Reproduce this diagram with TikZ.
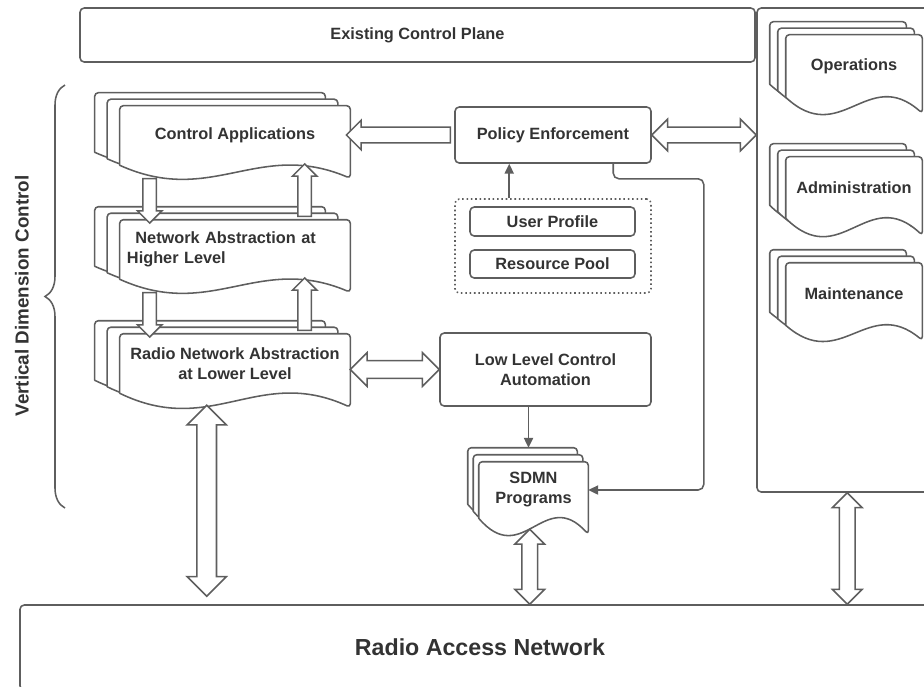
\documentclass[tikz,border=0pt]{standalone}
\usepackage{fontspec}
\setmainfont{Liberation Sans}
\usetikzlibrary{arrows.meta,backgrounds,calc,shapes.arrows,decorations.pathreplacing}
\definecolor{dgInk}{HTML}{333333}
\definecolor{dgEdge}{HTML}{5E5E5E}
\def\pxu{0.025cm}
% three stacked wavy documents behind a node
\newcommand{\docstack}[4]{%
  \begin{scope}[on background layer]
    \foreach \k in {2,1,0}{
      \coordinate (sw) at ($(#1.south west)+(-\k*#2,-\k*#3)$);
      \coordinate (nw) at ($(#1.north west)+(-\k*#2,-\k*#3)$);
      \coordinate (ne) at ($(#1.north east)+(-\k*#2,-\k*#3)$);
      \coordinate (se) at ($(#1.south east)+(-\k*#2,-\k*#3)$);
      \draw[doc] (sw) [rounded corners=2.5pt] -- (nw) -- (ne) -- ($(se)+(0,#4)$) [sharp corners]
        .. controls ($(sw)!0.6!(se)+(0,-2*#4)$) and ($(sw)!0.4!(se)+(0,3.2*#4)$) .. (sw);
    }
  \end{scope}}
% hollow block arrow between two points
\newcommand{\blockarrow}[3][]{%
  \path let \p1=#2, \p2=#3, \n1={veclen(\x2-\x1,\y2-\y1)}, \n2={atan2(\y2-\y1,\x2-\x1)} in
    node[hollow, #1, minimum height=\n1, rotate=\n2] at ({(\x1+\x2)/2},{(\y1+\y2)/2}) {};}

\begin{document}
\begin{tikzpicture}[x=0.025cm, y=-0.025cm,
  lbl/.style={font=\fontsize{11.6}{14.2}\selectfont\bfseries, text=dgInk},
  sz/.style 2 args={minimum width=#1*\pxu, minimum height=#2*\pxu},
  box/.style={draw=dgEdge, line width=1.1pt, rounded corners=3pt, lbl, align=center, inner sep=1pt},
  docnode/.style={lbl, align=center, inner sep=0pt},
  doc/.style={draw=dgEdge, line width=1.1pt, fill=white, line join=round, line cap=round},
  hollow/.style={draw=dgEdge, line width=1.1pt, fill=white, inner xsep=0pt, minimum width=0pt},
  hw/.style 2 args={inner ysep=#1, single arrow head extend=#2, double arrow head extend=#2},
  conn/.style={draw=dgEdge, line width=1.1pt, -{Triangle[length=7pt,width=6.5pt]}},
  brc/.style={draw=dgEdge, line width=1.1pt, decorate, decoration={brace, amplitude=0.5cm}},
]
\useasboundingbox (0,0) rectangle (924,686);
% ---- frames ----
\node[box, sz={675}{54}] (ecp) at (417.5,35) {Existing Control Plane};
\node[box, sz={178}{484}] (oam) at (846,250) {};
\node[box, sz={920}{85}, font=\fontsize{16.5}{20}\selectfont\bfseries] (ran) at (480,647.5) {Radio Access Network};
% ---- vertical control stacks ----
\node[docnode, sz={230}{59}] (ca) at (235,135.5) {Control Applications};
\node[docnode, sz={230}{59}, align=left, text width=5.4cm] (na) at (235,249.5) {\hspace*{6pt}Network Abstraction at\\Higher Level};
\node[docnode, sz={230}{59}] (rna) at (235,363.5) {Radio Network Abstraction\\at Lower Level};
\docstack{ca}{12.5}{6.5}{13}
\docstack{na}{12.5}{6.5}{13}
\docstack{rna}{12.5}{6.5}{14}
\draw[brc] (65,508) -- (65,85);
\node[lbl, font=\fontsize{13.4}{16}\selectfont\bfseries, rotate=90] (vdc) at (22,296) {Vertical Dimension Control};
% ---- policy / automation ----
\node[box, sz={196}{56}] (pe) at (553,135) {Policy Enforcement};
\node[box, dotted, sz={196}{94}] (ctx) at (553,246) {};
\node[box, sz={165}{29}] (up) at (552.5,221.5) {User Profile};
\node[box, sz={165}{28}] (rp) at (552.5,264) {Resource Pool};
\node[box, sz={211}{73}] (llca) at (545.5,369.5) {Low Level Control\\Automation};
\node[docnode, sz={109}{56}] (sdmn) at (533.5,490) {SDMN\\Programs};
\docstack{sdmn}{5.5}{7}{16}
% ---- OAM stacks ----
\node[docnode, sz={136}{62}] (ops) at (854,66) {Operations};
\node[docnode, sz={136}{61}] (adm) at (854,187.5) {Administration};
\node[docnode, sz={136}{62}] (mnt) at (854,294) {Maintenance};
\docstack{ops}{8}{6.5}{16}
\docstack{adm}{8}{6.5}{17}
\docstack{mnt}{8}{6.5}{15}
% ---- block arrows ----
\blockarrow[single arrow, hw={4.25pt}{3.9pt}]{($(ca.south west)+(30,10)$)}{($(na.north west)+(30,0)$)}
\blockarrow[single arrow, hw={4.25pt}{3.9pt}]{($(na.north west)+(185,0)$)}{($(ca.south west)+(185,2)$)}
\blockarrow[single arrow, hw={4.25pt}{3.9pt}]{($(na.south west)+(30,10)$)}{($(rna.north west)+(30,0)$)}
\blockarrow[single arrow, hw={4.25pt}{3.9pt}]{($(rna.north west)+(185,0)$)}{($(na.south west)+(185,2)$)}
\blockarrow[single arrow, hw={5pt}{5pt}]{(pe.west)}{(pe.west -| ca.east)}
\blockarrow[double arrow, hw={5pt}{5.7pt}]{(pe.east)}{(pe.east -| oam.west)}
\blockarrow[double arrow, hw={5.7pt}{5.7pt}]{(llca.west -| rna.east)}{(llca.west)}
\coordinate (r1) at ($(rna.south west)+(87,12)$);
\blockarrow[double arrow, hw={6.4pt}{7pt}]{(r1)}{($(r1 |- ran.north)+(0,-8)$)}
\coordinate (s1) at ($(sdmn.south west)+(51,11)$);
\blockarrow[double arrow, hw={5pt}{5pt}]{(s1)}{(s1 |- ran.north)}
\coordinate (o1) at ($(oam.south west)+(91,0)$);
\blockarrow[double arrow, hw={5pt}{5pt}]{(o1)}{(o1 |- ran.north)}
% ---- thin connectors ----
\coordinate (p1) at ($(pe.south west)+(55,0)$);
\draw[conn] (ctx.north -| p1) -- (p1);
\coordinate (sd1) at ($(sdmn.north)+(-5,-14)$);
\draw[conn] (llca.south -| sd1) -- (sd1);
\draw[conn, rounded corners=4pt] ($(pe.south west)+(159,0)$) |- ($(pe.south east)+(52,15)$) |- (sdmn.east);
\end{tikzpicture}
\end{document}
